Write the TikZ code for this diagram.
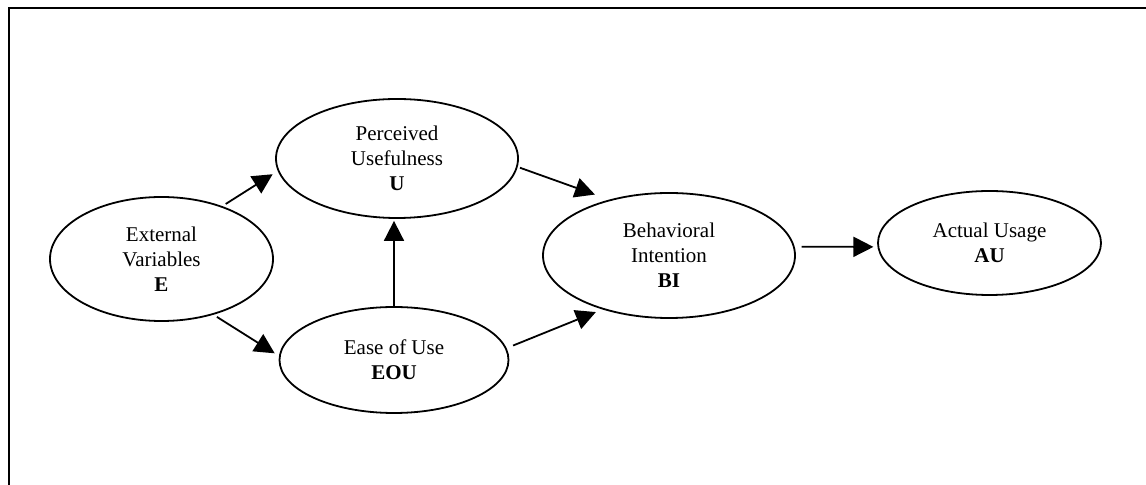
\documentclass[tikz,border=0pt]{standalone}
\usepackage{fontspec}
\setmainfont{Liberation Serif}
\usetikzlibrary{arrows.meta,shapes.geometric}
\begin{document}
\begin{tikzpicture}[
  x=0.5pt,y=-0.5pt,
  every node/.style={font=\fontsize{10.5}{12.5}\selectfont},
  ovalbox/.style={draw,ellipse,line width=0.9pt,inner sep=0pt,align=center},
  flowarrow/.style={-{Triangle[length=10pt,width=10pt]},line width=0.9pt},
]
  \useasboundingbox (0,0) rectangle (1146,485);

  % Frame
  \draw[line width=1pt] (1146,8.5) -- (9,8.5) -- (9,485);

  % Constructs
  \node[ovalbox,minimum width=111.5pt,minimum height=62pt] (E) at (161.5,259)
    {External\\Variables\\\textbf{E}};
  \node[ovalbox,minimum width=121pt,minimum height=59.5pt] (U) at (397,158.5)
    {Perceived\\Usefulness\\\textbf{U}};
  \node[ovalbox,minimum width=114.5pt,minimum height=53pt] (EOU) at (394,360)
    {Ease of Use\\\textbf{EOU}};
  \node[ovalbox,minimum width=126pt,minimum height=62.5pt] (BI) at (669,255.5)
    {Behavioral\\Intention\\\textbf{BI}};
  \node[ovalbox,minimum width=111.5pt,minimum height=52pt] (AU) at (989.5,243)
    {Actual Usage\\\textbf{AU}};

  % Arrows
  \draw[flowarrow,shorten <=2pt,shorten >=3pt] (E.41) -- (U.186);
  \draw[flowarrow,shorten <=2pt,shorten >=2.5pt] (E.-47) -- (EOU.178);
  \draw[flowarrow,shorten >=1pt] (EOU.north) -- (EOU.north |- U.south);
  \draw[flowarrow,shorten <=1.2pt,shorten >=7.5pt] (U.-4) -- (BI.137);
  \draw[flowarrow,shorten <=3.5pt,shorten >=3.5pt] (EOU.6) -- (BI.219);
  \draw[flowarrow,shorten <=3.5pt,shorten >=2pt] (BI.4) -- (AU.182);
\end{tikzpicture}
\end{document}
